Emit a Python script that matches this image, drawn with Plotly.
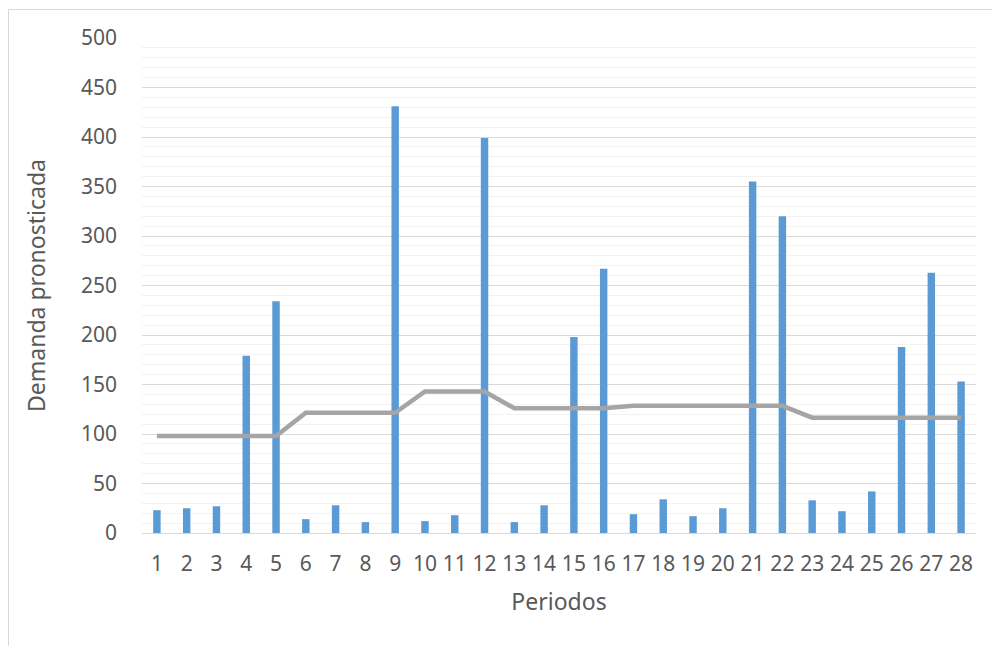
import plotly.graph_objects as go

# Periods and forecast demand
periodos = [str(i) for i in range(1, 29)]
demanda = [23, 25, 27, 179, 234, 14, 28, 11, 431, 12, 18, 399, 11, 28,
           198, 267, 19, 34, 17, 25, 355, 320, 33, 22, 42, 188, 263, 153]
promedio = [98, 98, 98, 98, 98, 121.5, 121.5, 121.5, 121.5, 143, 143, 143,
            126, 126, 126, 126, 128.5, 128.5, 128.5, 128.5, 128.5, 128.5,
            116.5, 116.5, 116.5, 116.5, 116.5, 116.5]
y_ticks = [0, 50, 100, 150, 200, 250, 300, 350, 400, 450, 500]

W, H = 992, 646
ML, MR, MT, MB = 142, 16, 38, 113
TXT = "#595959"
FONT = "Noto Sans"
FS = 21
FT = 23

fig = go.Figure()
fig.add_trace(go.Bar(x=periodos, y=demanda, marker=dict(color="#5B9BD5", line=dict(width=0)),
                     showlegend=False))
fig.add_trace(go.Scatter(x=periodos, y=promedio, mode="lines",
                         line=dict(color="#A5A5A5", width=4.5), showlegend=False))

pw, ph = W - ML - MR, H - MT - MB
# outer chart border (light gray frame)
fig.add_shape(type="rect", xref="paper", yref="paper",
              x0=(8.5 - ML) / pw, x1=(W + 20 - ML) / pw,
              y0=-(H + 20 - MT - ph) / ph, y1=(H - MB - 9.5) / ph,
              line=dict(color="#D9D9D9", width=1), fillcolor="rgba(0,0,0,0)", layer="below")

fig.update_layout(
    width=W, height=H,
    margin=dict(l=ML, r=MR, t=MT, b=MB),
    paper_bgcolor="white", plot_bgcolor="white",
    bargap=0.75,
    font=dict(family=FONT, color=TXT, size=FS),
    xaxis=dict(type="category", showgrid=False, showline=True, linecolor="#D9D9D9",
               linewidth=1, ticks="", tickfont=dict(size=FS, color=TXT), ticklabelstandoff=12,
               title=dict(text="Periodos", font=dict(size=FT, color=TXT), standoff=17)),
    yaxis=dict(range=[0, 500], tickvals=y_ticks, ticks="", showline=False,
               gridcolor="#D9D9D9", gridwidth=1, zeroline=False,
               minor=dict(dtick=10, showgrid=True, gridcolor="#F2F2F2", gridwidth=1),
               tickfont=dict(size=FS, color=TXT), ticklabelstandoff=24,
               title=dict(text="Demanda pronosticada", font=dict(size=FT, color=TXT), standoff=28)),
)

fig.write_html("out.html")
